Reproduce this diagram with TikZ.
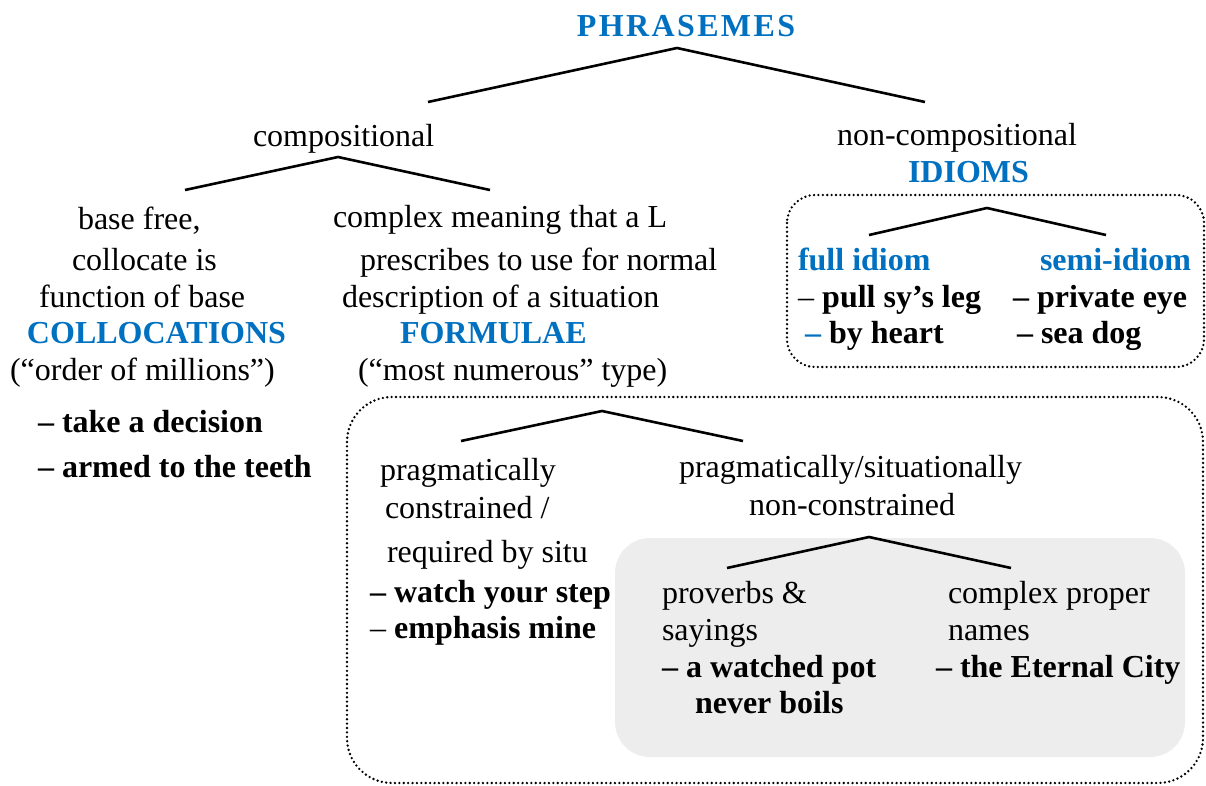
\documentclass[tikz,border=0pt]{standalone}
\usepackage{fontspec}
\setmainfont{Liberation Serif}
\definecolor{hblue}{HTML}{0070C0}
\definecolor{grayfill}{HTML}{EDEDED}
\tikzset{
  txt/.style={inner sep=0pt, outer sep=0pt, anchor=base west, font=\fontsize{32}{38}\selectfont},
  bl/.style={txt, font=\fontsize{32}{38}\selectfont\bfseries},
  head/.style={txt, text=hblue, font=\fontsize{32}{38}\selectfont\bfseries},
  branch/.style={line width=2.6pt, line join=miter},
  dotbox/.style={line width=2.6pt, line cap=round, dash pattern=on 0pt off 4.4pt},
}
\begin{document}
\begin{tikzpicture}[x=1pt,y=-1pt]
\useasboundingbox (0,0) rectangle (1206,785);
% boxes
\draw[dotbox, rounded corners=28pt] (787,195) rectangle (1204,367);
\draw[dotbox, rounded corners=45pt] (347,397) rectangle (1203,783);
\fill[grayfill, rounded corners=35pt] (615,538) rectangle (1185,757);

% tree connectors
\coordinate (a1) at (677,48); \coordinate (l1) at (428,102); \coordinate (r1) at (925,102);
\coordinate (a2) at (338,157); \coordinate (l2) at (185,190); \coordinate (r2) at (490,190);
\coordinate (a3) at (987,208); \coordinate (l3) at (869,235); \coordinate (r3) at (1106,235);
\coordinate (a4) at (602,411); \coordinate (l4) at (461,441); \coordinate (r4) at (743,441);
\coordinate (a5) at (869,537); \coordinate (l5) at (727,568); \coordinate (r5) at (1011,568);
\draw[branch] (l1) -- (a1) -- (r1);
\draw[branch] (l2) -- (a2) -- (r2);
\draw[branch] (l3) -- (a3) -- (r3);
\draw[branch] (l4) -- (a4) -- (r4);
\draw[branch] (l5) -- (a5) -- (r5);

% top
\node[head, anchor=base] (phr) at (686,36) {\addfontfeature{LetterSpace=7.5}PHRASEMES};
\node[txt] (comp) at (253,146) {compositional};
\node[txt] (noncomp) at (837,145) {non-compositional};
\node[head] (idioms) at (908,182) {IDIOMS};

% collocations
\node[txt] (c1) at (78,229) {base free,};
\node[txt] (c2) at (72,270) {collocate is};
\node[txt] (c3) at (39,307) {function of base};
\node[head] (coll) at (27,343) {COLLOCATIONS};
\node[txt] (c4) at (10,380) {(“order of millions”)};
\node[bl] (c5) at (38,432) {– take a decision};
\node[bl] (c6) at (38,477) {– armed to the teeth};

% formulae
\node[txt] (f1) at (333,227) {complex meaning that a L};
\node[txt] (f2) at (360,270) {prescribes to use for normal};
\node[txt] (f3) at (342,307) {description of a situation};
\node[head] (form) at (400,343) {FORMULAE};
\node[txt] (f4) at (358,380) {(“most numerous” type)};

% idioms
\node[head] (full) at (798,270) {full idiom};
\node[head] (semi) at (1040,270) {semi-idiom};
\node[txt] (i1) at (798,307) {– \textbf{pull sy’s leg}};
\node[bl] (i2) at (1013,307) {– private eye};
\node[bl] (i3) at (805,343) {\textcolor{hblue}{–} by heart};
\node[bl] (i4) at (1017,343) {– sea dog};

% pragmatic
\node[txt] (p1) at (380,480) {pragmatically};
\node[txt] (p2) at (385,518) {constrained /};
\node[txt] (p3) at (387,562) {required by situ};
\node[bl] (p4) at (370,602) {– watch your step};
\node[txt] (p5) at (370,638) {– \textbf{emphasis mine}};
\node[txt] (q1) at (679,477) {pragmatically/situationally};
\node[txt] (q2) at (749,515) {non-constrained};

% gray box content
\node[txt] (g1) at (662,603) {proverbs \&};
\node[txt] (g2) at (662,640) {sayings};
\node[bl] (g3) at (662,677) {– a watched pot};
\node[bl] (g4) at (695,713) {never boils};
\node[txt] (h1) at (948,603) {complex proper};
\node[txt] (h2) at (948,640) {names};
\node[bl] (h3) at (936,677) {– the Eternal City};
\end{tikzpicture}
\end{document}
